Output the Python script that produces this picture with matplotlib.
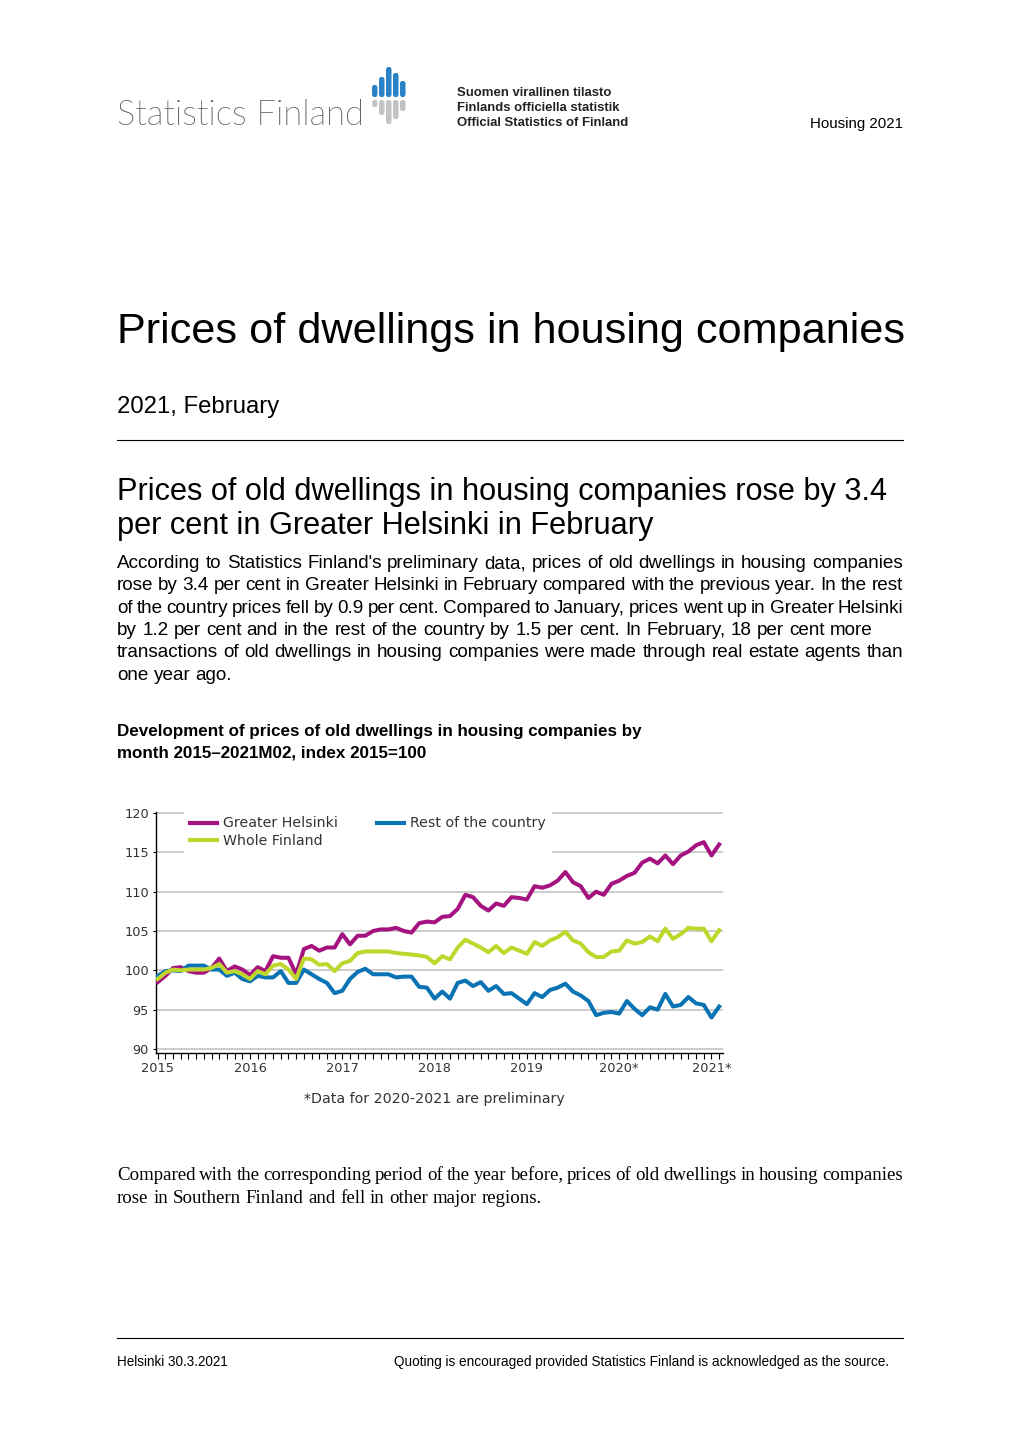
import matplotlib
matplotlib.use('Agg')
import matplotlib.pyplot as plt
import numpy as np
from matplotlib.patches import FancyBboxPatch
from matplotlib.lines import Line2D
from matplotlib import font_manager

# ---------------- data ----------------
greater_helsinki = [98.5, 99.3, 100.3, 100.4, 99.9, 99.7, 99.7, 100.3, 101.5, 99.9, 100.5, 100.1,
                    99.4, 100.4, 99.9, 101.8, 101.6, 101.6, 99.5, 102.7, 103.1, 102.5, 102.9, 102.9,
                    104.6, 103.3, 104.4, 104.4, 105.0, 105.2, 105.2, 105.4, 105.0, 104.8, 106.0, 106.2,
                    106.1, 106.8, 106.9, 107.8, 109.6, 109.3, 108.2, 107.6, 108.5, 108.2, 109.3, 109.2,
                    109.0, 110.7, 110.5, 110.8, 111.4, 112.5, 111.2, 110.7, 109.2, 110.0, 109.6, 111.0,
                    111.4, 112.0, 112.4, 113.7, 114.2, 113.6, 114.6, 113.5, 114.6, 115.1, 115.9, 116.3,
                    114.6, 116.0]
whole_finland = [98.9, 99.7, 100.1, 100.0, 100.1, 100.1, 100.1, 100.3, 100.8, 99.7, 99.9, 99.5,
                 98.9, 99.9, 99.5, 100.6, 100.8, 100.1, 98.9, 101.5, 101.4, 100.7, 100.8, 99.9,
                 100.9, 101.2, 102.2, 102.4, 102.4, 102.4, 102.4, 102.2, 102.1, 102.0, 101.9, 101.7,
                 100.9, 101.8, 101.4, 102.9, 103.9, 103.4, 102.9, 102.3, 103.1, 102.2, 102.9, 102.5,
                 102.1, 103.6, 103.1, 103.8, 104.2, 104.9, 103.8, 103.4, 102.3, 101.7, 101.7, 102.4,
                 102.5, 103.8, 103.4, 103.6, 104.3, 103.7, 105.3, 104.0, 104.6, 105.4, 105.3, 105.3,
                 103.7, 105.1]
rest_of_country = [99.3, 99.9, 100.0, 99.9, 100.6, 100.6, 100.6, 100.1, 100.1, 99.3, 99.7, 98.9,
                   98.6, 99.3, 99.1, 99.1, 99.9, 98.4, 98.4, 100.1, 99.5, 98.9, 98.4, 97.1,
                   97.4, 98.9, 99.8, 100.2, 99.5, 99.5, 99.5, 99.1, 99.2, 99.2, 97.9, 97.8,
                   96.4, 97.3, 96.4, 98.4, 98.7, 98.0, 98.5, 97.4, 98.0, 97.0, 97.1, 96.4,
                   95.7, 97.1, 96.6, 97.5, 97.8, 98.3, 97.3, 96.8, 96.1, 94.3, 94.6, 94.7,
                   94.5, 96.1, 95.1, 94.3, 95.3, 95.0, 97.0, 95.4, 95.6, 96.6, 95.8, 95.6,
                   94.0, 95.4]
series_names = ["Greater Helsinki", "Whole Finland", "Rest of the country"]
year_labels = ["2015", "2016", "2017", "2018", "2019", "2020*", "2021*"]
y_ticks = [90, 95, 100, 105, 110, 115, 120]

months = np.arange(len(greater_helsinki))
year_positions = np.arange(len(year_labels)) * 12

C_GH = '#a4137f'
C_WF = '#bfd62c'
C_RC = '#0a73b3'

# ---------------- figure ----------------
W, H = 1020, 1442
fig = plt.figure(figsize=(W / 100, H / 100), dpi=100)
fig.patch.set_facecolor('white')
renderer = fig.canvas.get_renderer()

names = {f.name for f in font_manager.fontManager.ttflist}
NARROW = 'Liberation Sans Narrow' if 'Liberation Sans Narrow' in names else 'Liberation Sans'
light_choice = ('DejaVu Sans', 'normal')
for f in font_manager.fontManager.ttflist:
    if f.name in ('Lato', 'Open Sans', 'Roboto', 'Noto Sans') and isinstance(f.weight, int) and f.weight <= 300:
        light_choice = (f.name, f.weight)
        break


def fx(x):
    return x / W


def fy(y):
    return 1 - y / H


def put(x, y, s, size, family='Liberation Sans', weight='normal', ha='left', color='black', width=None):
    t = fig.text(fx(x), fy(y), s, fontsize=size, family=family, weight=weight,
                 ha=ha, va='baseline', color=color)
    if width is not None:
        w = t.get_window_extent(renderer).width
        t.set_fontsize(size * width / w)
    return t


def text_width(s, size, family):
    t = fig.text(0, 0, s, fontsize=size, family=family)
    w = t.get_window_extent(renderer).width
    t.remove()
    return w


def words_line(x0, y, line, size, family, x1=None, color='black'):
    """Draw a line word by word; justified to x1 if given, else natural spacing."""
    words = line.split()
    ts = [fig.text(0, 0, wd, fontsize=size, family=family, va='baseline', color=color) for wd in words]
    widths = [t.get_window_extent(renderer).width for t in ts]
    if x1 is not None and len(words) > 1:
        gap = (x1 - x0 - sum(widths)) / (len(words) - 1)
    else:
        gap = text_width("a a", size, family) - text_width("aa", size, family)
    x = x0
    for t, wd in zip(ts, widths):
        t.set_position((fx(x), fy(y)))
        x += wd + gap


def hrule(y, x0=117, x1=903, color='black', lw=0.8):
    fig.add_artist(Line2D([fx(x0), fx(x1)], [fy(y), fy(y)], transform=fig.transFigure,
                          color=color, lw=lw))


# ---------------- header ----------------
put(117, 125, "Statistics Finland", 28, family=light_choice[0], weight=light_choice[1],
    color='#55575a', width=248)
bars = [(372, 85, 107), (379, 77, 115), (386, 67, 124), (393, 73, 119), (400, 81, 111)]
for bx, top, bot in bars:
    fig.add_artist(FancyBboxPatch((fx(bx), fy(97)), 5.5 / W, (97 - top) / H,
                                  boxstyle='round,pad=0,rounding_size=0.002',
                                  transform=fig.transFigure, facecolor='#2a82c6', edgecolor='none'))
    fig.add_artist(FancyBboxPatch((fx(bx), fy(bot)), 5.5 / W, (bot - 100) / H,
                                  boxstyle='round,pad=0,rounding_size=0.002',
                                  transform=fig.transFigure, facecolor='#c2c3c5', edgecolor='none'))
put(457, 96, "Suomen virallinen tilasto", 10, family=NARROW, weight='bold', color='#222222', width=156)
put(457, 111, "Finlands officiella statistik", 10, family=NARROW, weight='bold', color='#222222', width=164)
put(457, 126, "Official Statistics of Finland", 10, family=NARROW, weight='bold', color='#222222', width=173)
put(810, 128, "Housing 2021", 10, width=93)

put(117, 343, "Prices of dwellings in housing companies", 30, width=786)
put(117, 413, "2021, February", 16, width=162)
hrule(440)

t = put(117, 500, "Prices of old dwellings in housing companies rose by 3.4", 21, width=772)
hs = t.get_fontsize()
put(117, 534, "per cent in Greater Helsinki in February", hs)

para = ["According to Statistics Finland's preliminary data, prices of old dwellings in housing companies",
        "rose by 3.4 per cent in Greater Helsinki in February compared with the previous year. In the rest",
        "of the country prices fell by 0.9 per cent. Compared to January, prices went up in Greater Helsinki",
        "by 1.2 per cent and in the rest of the country by 1.5 per cent. In February, 18 per cent more",
        "transactions of old dwellings in housing companies were made through real estate agents than",
        "one year ago."]
justified = [True, True, True, False, True, False]
ps = 13 * 756 / text_width(para[3], 13, 'Liberation Sans')
for i, (ln, j) in enumerate(zip(para, justified)):
    words_line(117, 568 + i * 22.3, ln, ps, 'Liberation Sans', x1=903 if j else None)

t = put(117, 736, "Development of prices of old dwellings in housing companies by", 11.5,
        weight='bold', width=528)
put(117, 757, "month 2015\u20132021M02, index 2015=100", t.get_fontsize(), weight='bold')

# ---------------- chart ----------------
ax_left, ax_right, ax_top, ax_bot = 155.8, 723.0, 812.0, 1053.0
ax = fig.add_axes([fx(ax_left), fy(ax_bot), (ax_right - ax_left) / W, (ax_bot - ax_top) / H])
ax.set_facecolor('white')
lw = 2.9
l_gh, = ax.plot(months, greater_helsinki, color=C_GH, lw=lw, zorder=3, solid_joinstyle='round')
l_rc, = ax.plot(months, rest_of_country, color=C_RC, lw=lw, zorder=4, solid_joinstyle='round')
l_wf, = ax.plot(months, whole_finland, color=C_WF, lw=lw, zorder=5, solid_joinstyle='round')

ax.set_xlim(-0.25, 73.5)
ax.set_ylim(89.49, 120.13)
ax.set_yticks(y_ticks)
ax.set_yticklabels([str(v) for v in y_ticks])
ax.set_xticks(year_positions)
ax.set_xticklabels(year_labels)
ax.set_xticks(months, minor=True)
ax.grid(axis='y', color='#c8c8c8', lw=1.3, zorder=0)
ax.set_axisbelow(True)
for s in ['top', 'right']:
    ax.spines[s].set_visible(False)
for s in ['left', 'bottom']:
    ax.spines[s].set_color('black')
    ax.spines[s].set_linewidth(1.0)
ax.tick_params(axis='y', direction='out', length=2.5, width=0.8, pad=2.5, labelsize=9.3, labelcolor='#333333')
ax.tick_params(axis='x', which='both', direction='out', length=4, width=0.8, pad=2.5,
               labelsize=9.3, labelcolor='#333333')

leg = ax.legend([l_gh, l_wf, l_rc], series_names, ncol=2, loc='upper left',
                bbox_to_anchor=(0.0504, 1.005), fontsize=10.2, frameon=True, fancybox=False,
                handlelength=1.9, handletextpad=0.42, columnspacing=2.8, labelspacing=0.25,
                borderpad=0.4, borderaxespad=0)
leg.get_frame().set_facecolor('white')
leg.get_frame().set_edgecolor('none')
leg.get_frame().set_alpha(1)
for txt in leg.get_texts():
    txt.set_color('#333333')
for hl in leg.get_lines():
    hl.set_linewidth(3.0)
leg.set_zorder(10)

put(434.5, 1103, "*Data for 2020-2021 are preliminary", 10, family='DejaVu Sans', ha='center',
    color='#333333', width=261)

# ---------------- lower text ----------------
serif_lines = ["Compared with the corresponding period of the year before, prices of old dwellings in housing companies",
               "rose in Southern Finland and fell in other major regions."]
ss = 13 * 423 / text_width(serif_lines[1], 13, 'Liberation Serif')
words_line(117, 1180, serif_lines[0], ss, 'Liberation Serif', x1=903)
words_line(117, 1203, serif_lines[1], ss, 'Liberation Serif')

hrule(1338, lw=0.8)
put(117, 1366, "Helsinki 30.3.2021", 9.5, width=112)
put(394, 1366, "Quoting is encouraged provided Statistics Finland is acknowledged as the source.", 9.5, width=496)

fig.savefig('out.png', dpi=100, facecolor='white')
